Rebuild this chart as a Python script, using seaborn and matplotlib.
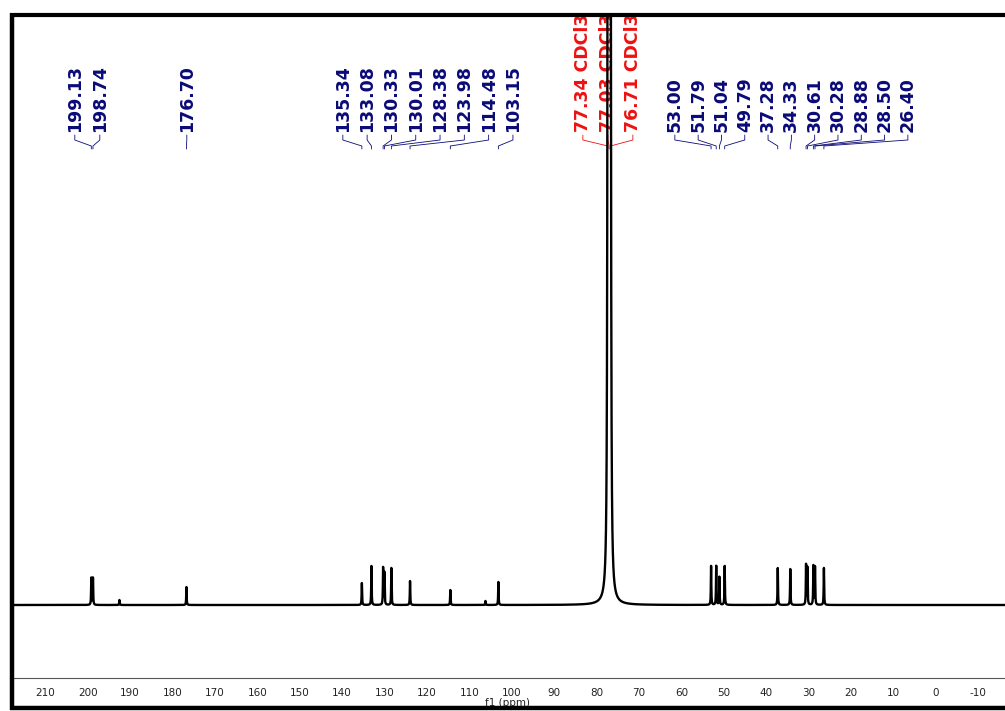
import numpy as np
import pandas as pd
import matplotlib
matplotlib.use("Agg")
import matplotlib.pyplot as plt
from matplotlib.lines import Line2D
from matplotlib.ticker import MultipleLocator
import seaborn as sns

# 13C NMR peak list (ppm) with peak heights (arbitrary units)
shifts_carbonyl = [199.13, 198.74]
heights_carbonyl = [27, 27]
shifts_ester = [176.70]
heights_ester = [18]
shifts_aromatic = [135.34, 133.08, 130.33, 130.01, 128.38, 123.98, 114.48, 103.15]
heights_aromatic = [22, 39, 37, 32, 37, 24, 15, 23]
shifts_solvent = [77.34, 77.03, 76.71]
heights_solvent = [1000, 1050, 1000]
shifts_aliphatic = [53.00, 51.79, 51.04, 49.79, 37.28, 34.33, 30.61, 30.28, 28.88, 28.50, 26.40]
heights_aliphatic = [39, 39, 28, 39, 37, 36, 40, 37, 39, 38, 37]
# small unlabelled signals
shifts_minor = [192.5, 106.2]
heights_minor = [5, 4]

solvent_name = "CDCl3"
x_label = "f1 (ppm)"
tick_values = list(range(210, -11, -10))

W, H = 1005, 711
sns.set_style("white")
plt.rcParams["font.family"] = ["DejaVu Sans"]
plt.rcParams["axes.unicode_minus"] = False

fig = plt.figure(figsize=(W / 100, H / 100), dpi=100)
ax_top_px, ax_bot_px, ax_left_px = 15, 678, 10
ax = fig.add_axes([ax_left_px / W, 1 - ax_bot_px / H,
                   1 - ax_left_px / W, (ax_bot_px - ax_top_px) / H])

X_LEFT, X_RIGHT = 218.3, -16.3
PX_PER_PPM = 4.241
BASE_PX = 605  # row of the baseline; intensity units equal pixels

# build the spectrum as a sum of Lorentzian lines
ppm = np.linspace(X_LEFT, X_RIGHT, 40000)
signal = np.zeros_like(ppm)
def add_lines(shifts, heights, hw):
    global signal
    for p, h in zip(shifts, heights):
        signal = signal + h / (1 + ((ppm - p) / hw) ** 2)

add_lines(shifts_carbonyl, heights_carbonyl, 0.06)
add_lines(shifts_ester, heights_ester, 0.06)
add_lines(shifts_aromatic, heights_aromatic, 0.06)
add_lines(shifts_aliphatic, heights_aliphatic, 0.06)
add_lines(shifts_minor, heights_minor, 0.06)
add_lines(shifts_solvent, heights_solvent, 0.10)

spec = pd.DataFrame({"ppm": ppm, "intensity": signal})
sns.lineplot(data=spec, x="ppm", y="intensity", ax=ax, color="black",
             linewidth=1.7, estimator=None, sort=False, zorder=5)

ax.set_xlim(X_LEFT, X_RIGHT)
ax.set_ylim(BASE_PX - ax_bot_px, BASE_PX - ax_top_px)
ax.set_yticks([])
ax.set_ylabel("")
ax.set_xticks(tick_values)
ax.set_xticklabels([str(t) for t in tick_values])
ax.xaxis.set_minor_locator(MultipleLocator(5))
ax.tick_params(axis="x", which="major", direction="out", length=4, width=0.8,
               color="#555555", labelsize=7.5, labelcolor="#222222", pad=3)
ax.tick_params(axis="x", which="minor", direction="in", length=2, width=0.8,
               color="#555555")
ax.set_xlabel(x_label, fontsize=7.5, color="#222222", labelpad=0)
for side in ("top", "left", "right"):
    ax.spines[side].set_visible(False)
ax.spines["bottom"].set_color("#555555")
ax.spines["bottom"].set_linewidth(0.8)

# peak labels with connector lines (rows given in pixels from the top)
navy = "#0a0a78"
red = "#ee1111"
text_row, r1, r2, r3 = 132, 140, 146, 149
step_px = 24.3

def label_group(shifts, start_px, step, color, suffix=""):
    for i, p in enumerate(shifts):
        lx_px = start_px + i * step
        lx = (936 - lx_px) / PX_PER_PPM
        ax.text(lx, BASE_PX - text_row, f"{p:.2f}{suffix}", rotation=90,
                ha="center", va="bottom", fontsize=12.5, fontweight="bold",
                color=color, zorder=3)
        ax.plot([lx, lx, p, p],
                [BASE_PX - text_row - 3, BASE_PX - r1, BASE_PX - r2, BASE_PX - r3],
                color=color, linewidth=0.6, zorder=3)

label_group(shifts_carbonyl, 75, 25, navy)
label_group(shifts_ester, 187, step_px, navy)
label_group(shifts_aromatic, 343, step_px, navy)
label_group(shifts_solvent, 583, 25, red, " " + solvent_name)
label_group(shifts_aliphatic, 675, 23.3, navy)

# heavy frame around the plot
def frame_line(xs, ys, lw):
    fig.add_artist(Line2D([x / W for x in xs], [1 - y / H for y in ys],
                          transform=fig.transFigure, color="black",
                          linewidth=lw, solid_capstyle="butt", zorder=20))

frame_line([10, 1005], [15, 15], 3.0)
frame_line([12, 12], [13, 710], 3.2)
frame_line([10, 1005], [707.5, 707.5], 3.2)

fig.savefig("out.png", dpi=100)
